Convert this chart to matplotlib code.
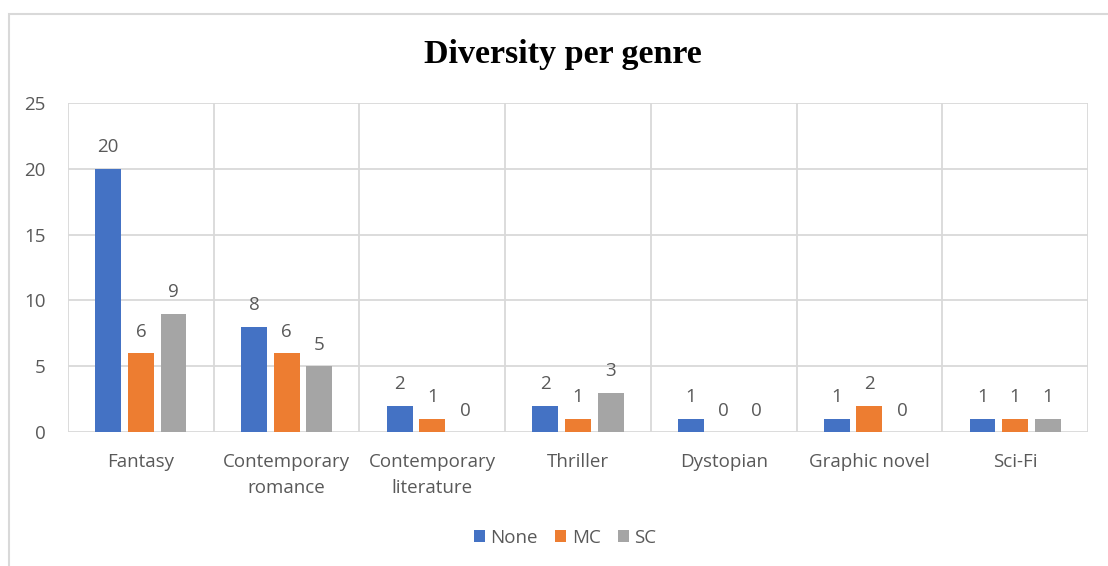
import matplotlib.pyplot as plt
import numpy as np
from matplotlib.patches import Rectangle

genres = ['Fantasy', 'Contemporary\nromance', 'Contemporary\nliterature', 'Thriller',
          'Dystopian', 'Graphic novel', 'Sci-Fi']
none_vals = [20, 8, 2, 2, 1, 1, 1]
mc_vals = [6, 6, 1, 1, 0, 2, 1]
sc_vals = [9, 5, 0, 3, 0, 0, 1]
series = ['None', 'MC', 'SC']
colors = ['#4472C4', '#ED7D31', '#A5A5A5']

text_grey = '#595959'
grid_grey = '#D9D9D9'
fs = 13.5
plt.rcParams['font.family'] = ['Open Sans', 'DejaVu Sans']

fig = plt.figure(figsize=(11.08, 5.66), dpi=100)
# chart frame
fig.patches.append(Rectangle((9 / 1108, -0.02), 1.1, 1 - 14 / 566 + 0.02,
                             transform=fig.transFigure, fill=False,
                             edgecolor='#D9D9D9', linewidth=1.5))

ax = fig.add_axes([68 / 1108, 1 - 432 / 566, (1088 - 68) / 1108, (432 - 103) / 566])

x = np.arange(len(genres))
w = 0.178
offs = [-0.224, 0, 0.224]
for vals, name, c, o in zip([none_vals, mc_vals, sc_vals], series, colors, offs):
    bars = ax.bar(x + o, vals, width=w, color=c, label=name, zorder=3)
    ax.bar_label(bars, labels=[str(v) for v in vals], padding=9,
                 fontsize=fs, color=text_grey)

ax.set_xlim(-0.5, len(genres) - 0.5)
ax.set_ylim(0, 25)
ax.set_yticks(range(0, 26, 5))
ax.set_xticks(x)
ax.set_xticklabels(genres, fontsize=fs, color=text_grey, linespacing=1.55)
ax.tick_params(axis='y', labelsize=fs, labelcolor=text_grey, length=0, pad=16)
ax.tick_params(axis='x', length=0, pad=15)

# horizontal gridlines plus separators between the genres
ax.yaxis.grid(True, color=grid_grey, linewidth=1.3, zorder=0)
for b in np.arange(-0.5, len(genres), 1):
    ax.axvline(b, color=grid_grey, linewidth=1.3, zorder=0)
for s in ax.spines.values():
    s.set_visible(False)

fig.text(0.508, 1 - 55 / 566, 'Diversity per genre', ha='center', va='center',
         fontsize=24.5, fontweight='bold', family='Liberation Serif')

fig.legend(loc='center', bbox_to_anchor=(0.510, 1 - 538 / 566), ncol=3, frameon=False,
           fontsize=fs, labelcolor=text_grey, handlelength=0.6, handleheight=0.6,
           handletextpad=0.3, columnspacing=0.9)

fig.savefig('out.png', dpi=100)
